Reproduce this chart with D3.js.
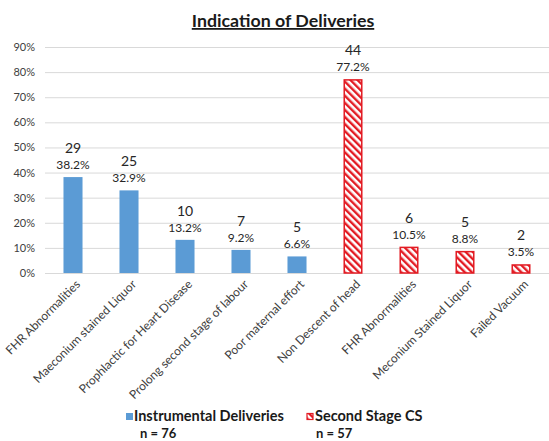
<!DOCTYPE html>
<html>
<head>
<meta charset="utf-8">
<script src="https://cdn.jsdelivr.net/npm/d3@7"></script>
<style>
  body { margin: 0; background: #fff; }
  svg { display: block; font-family: Lato, "Open Sans", sans-serif; }
</style>
</head>
<body>
<div class="chart-area"></div>
<script>
const instrumentalLabels = ['FHR Abnormalities', 'Maeconium stained Liquor', 'Prophlactic for Heart Disease', 'Prolong second stage of labour', 'Poor maternal effort'];
const instrumentalCounts = [29, 25, 10, 7, 5];
const instrumentalPct = [38.2, 32.9, 13.2, 9.2, 6.6];

const csLabels = ['Non Descent of head', 'FHR Abnormalities', 'Meconium Stained Liquor', 'Failed Vacuum'];
const csCounts = [44, 6, 5, 2];
const csPct = [77.2, 10.5, 8.8, 3.5];

const yTicks = [0, 10, 20, 30, 40, 50, 60, 70, 80, 90];

const chart = {
  width: 549,
  height: 441,
  left: 45,
  right: 549,
  top: 47,
  bottom: 273,
  blue: '#5b9bd5',
  red: '#e31b23',
};

// one flat list of bars, both series side by side
const bars = [
  ...instrumentalLabels.map((label, i) => ({ key: 'i' + i, label, count: instrumentalCounts[i], pct: instrumentalPct[i], series: 0 })),
  ...csLabels.map((label, i) => ({ key: 'c' + i, label, count: csCounts[i], pct: csPct[i], series: 1 })),
];

const svg = d3.select('.chart-area')
  .append('svg')
  .attr('width', chart.width)
  .attr('height', chart.height);

const defs = svg.append('defs');
const hatch = defs.append('pattern')
  .attr('id', 'hatch')
  .attr('patternUnits', 'userSpaceOnUse')
  .attr('width', 5)
  .attr('height', 5)
  .attr('patternTransform', 'rotate(-45)');
hatch.append('rect').attr('width', 5).attr('height', 5).attr('fill', '#fff');
hatch.append('rect').attr('width', 2.4).attr('height', 5).attr('fill', chart.red);

const x = d3.scaleBand()
  .domain(bars.map(d => d.key))
  .range([chart.left, chart.right])
  .paddingInner(0.66)
  .paddingOuter(0.33);

const y = d3.scaleLinear()
  .domain([0, 90])
  .range([chart.bottom, chart.top]);

// title
svg.append('text')
  .attr('x', 283)
  .attr('y', 27)
  .attr('text-anchor', 'middle')
  .attr('font-size', '17.8px')
  .attr('font-weight', 'bold')
  .attr('fill', '#1a1a1a')
  .attr('text-decoration', 'underline')
  .text('Indication of Deliveries');

// gridlines + y labels
const yAxis = svg.append('g')
  .attr('transform', `translate(${chart.left},0)`)
  .call(d3.axisLeft(y).tickValues(yTicks).tickSize(-(chart.width - chart.left)).tickFormat(d => d + '%'));
yAxis.select('.domain').remove();
yAxis.selectAll('.tick line').attr('stroke', '#d9d9d9').attr('stroke-width', 1);
yAxis.selectAll('.tick text')
  .attr('x', -10)
  .attr('font-size', '11px')
  .attr('font-family', 'Lato, sans-serif')
  .attr('fill', '#404040');

// bars
svg.selectAll('.bar')
  .data(bars)
  .enter()
  .append('rect')
  .attr('class', 'bar')
  .attr('x', d => x(d.key) + (d.series ? 0.75 : 0))
  .attr('y', d => y(d.pct) + (d.series ? 0.75 : 0))
  .attr('width', d => x.bandwidth() - (d.series ? 1.5 : 0))
  .attr('height', d => chart.bottom - y(d.pct) - (d.series ? 0.75 : 0))
  .attr('fill', d => d.series ? 'url(#hatch)' : chart.blue)
  .attr('stroke', d => d.series ? chart.red : 'none')
  .attr('stroke-width', 1.5);

// data labels: count over percentage
const labels = svg.selectAll('.value')
  .data(bars)
  .enter()
  .append('g')
  .attr('class', 'value')
  .attr('transform', d => `translate(${x(d.key) + x.bandwidth() / 2},${y(d.pct)})`);

labels.append('text')
  .attr('y', -24)
  .attr('text-anchor', 'middle')
  .attr('font-size', '14px')
  .attr('fill', '#262626')
  .text(d => d.count);

labels.append('text')
  .attr('y', -8)
  .attr('text-anchor', 'middle')
  .attr('font-size', '12px')
  .attr('fill', '#262626')
  .text(d => d.pct.toFixed(1) + '%');

// category labels, rotated
svg.selectAll('.cat')
  .data(bars)
  .enter()
  .append('text')
  .attr('class', 'cat')
  .attr('text-anchor', 'end')
  .attr('font-size', '12px')
  .attr('fill', '#404040')
  .attr('transform', d => `translate(${x(d.key) + x.bandwidth() / 2 + 8},${chart.bottom + 12}) rotate(-45)`)
  .text(d => d.label);

// legend
const legend = svg.append('g').attr('font-weight', 'bold').attr('fill', '#1a1a1a');
legend.append('rect').attr('x', 126).attr('y', 413).attr('width', 7).attr('height', 7).attr('fill', chart.blue);
legend.append('text').attr('x', 134).attr('y', 421).attr('font-size', '14.5px').text('Instrumental Deliveries');
legend.append('text').attr('x', 140).attr('y', 438).attr('font-size', '13px').text('n = 76');
legend.append('rect').attr('x', 307).attr('y', 413.5).attr('width', 6).attr('height', 6)
  .attr('fill', 'url(#hatch)').attr('stroke', chart.red).attr('stroke-width', 1.2);
legend.append('text').attr('x', 315).attr('y', 421).attr('font-size', '14.5px').text('Second Stage CS');
legend.append('text').attr('x', 316).attr('y', 438).attr('font-size', '13px').text('n = 57');
</script>
</body>
</html>
